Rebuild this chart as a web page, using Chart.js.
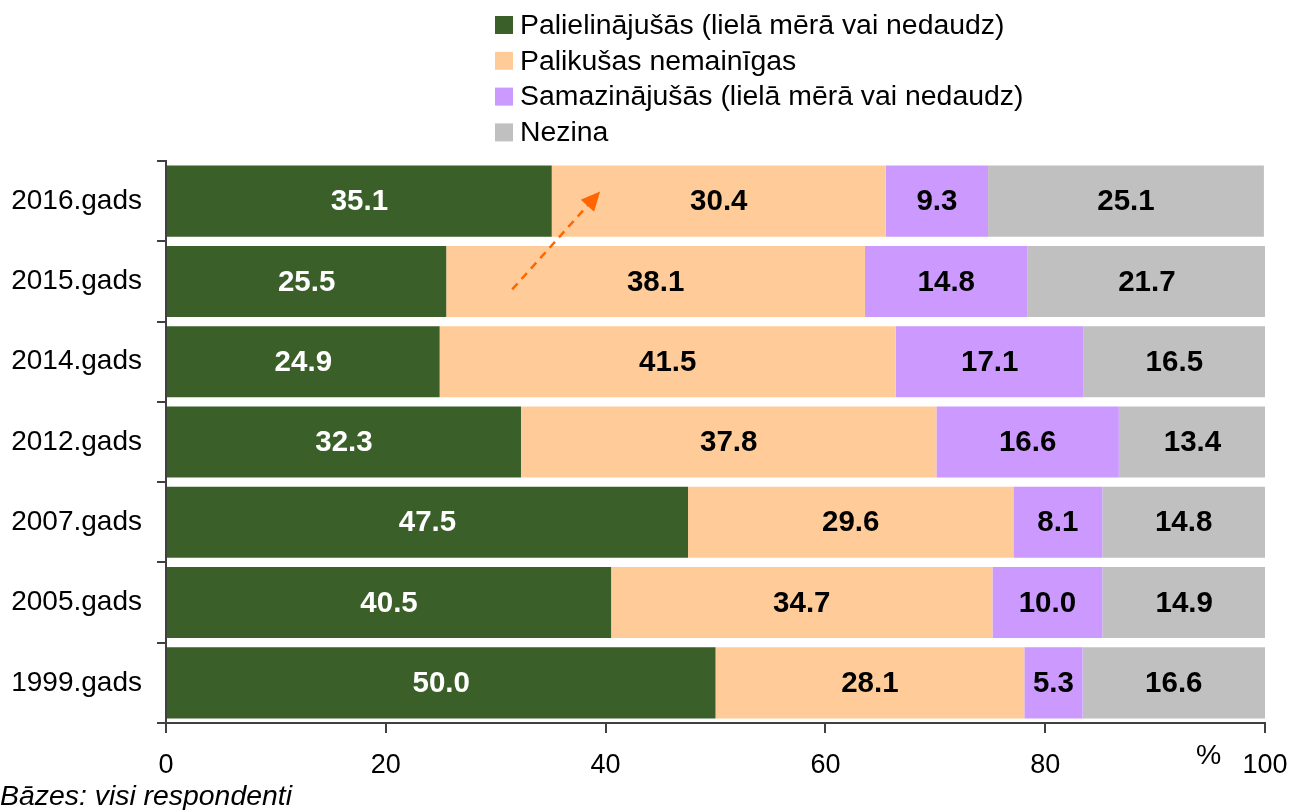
<!DOCTYPE html>
<html>
<head>
<meta charset="utf-8">
<script src="https://cdn.jsdelivr.net/npm/chart.js@4.4.1/dist/chart.umd.min.js"></script>
<style>
html,body{margin:0;padding:0;background:#fff;}
#wrap{position:relative;width:1291px;height:810px;}
</style>
</head>
<body>
<div id="wrap"><canvas id="c" width="1291" height="810"></canvas></div>
<script>
const categories = ['2016.gads','2015.gads','2014.gads','2012.gads','2007.gads','2005.gads','1999.gads'];
const seriesNames = ['Palielinājušās (lielā mērā vai nedaudz)','Palikušas nemainīgas','Samazinājušās (lielā mērā vai nedaudz)','Nezina'];
const increased = [35.1, 25.5, 24.9, 32.3, 47.5, 40.5, 50.0];
const unchanged = [30.4, 38.1, 41.5, 37.8, 29.6, 34.7, 28.1];
const decreased = [9.3, 14.8, 17.1, 16.6, 8.1, 10.0, 5.3];
const dontKnow = [25.1, 21.7, 16.5, 13.4, 14.8, 14.9, 16.6];
const xTicks = [0, 20, 40, 60, 80, 100];
const colors = ['#3A5F28', '#FFCC99', '#CC99FF', '#C0C0C0'];
const labelColors = ['#FFFFFF', '#000000', '#000000', '#000000'];
const unitLabel = '%';
const footnote = 'Bāzes: visi respondenti';
// arrow annotation in data units: [x value, category index]
const arrowFrom = [31.5, 1.1];
const arrowTo = [39.5, -0.12];

const FONT = "'Liberation Sans', Arial, sans-serif";
const AXIS = '#404040';

const seriesData = [increased, unchanged, decreased, dontKnow];
const datasets = seriesData.map((d, i) => ({
  label: seriesNames[i],
  data: d,
  backgroundColor: colors[i],
  borderWidth: 0,
  categoryPercentage: 1.0,
  barPercentage: 0.885
}));

const extras = {
  id: 'extras',
  afterDatasetsDraw(chart) {
    const ctx = chart.ctx;
    ctx.save();
    ctx.font = 'bold 29.5px ' + FONT;
    ctx.textAlign = 'center';
    ctx.textBaseline = 'middle';
    chart.data.datasets.forEach((ds, di) => {
      const meta = chart.getDatasetMeta(di);
      meta.data.forEach((bar, i) => {
        const p = bar.getProps(['x', 'base', 'y'], true);
        ctx.fillStyle = labelColors[di];
        ctx.fillText(ds.data[i].toFixed(1), (p.x + p.base) / 2, p.y + 1);
      });
    });
    ctx.restore();
    // arrow
    const xs = chart.scales.x, ys = chart.scales.y;
    const x1 = xs.getPixelForValue(arrowFrom[0]), y1 = ys.getPixelForValue(arrowFrom[1]);
    const x2 = xs.getPixelForValue(arrowTo[0]), y2 = ys.getPixelForValue(arrowTo[1]);
    const ang = Math.atan2(y2 - y1, x2 - x1);
    const hl = 19, hw = 9;
    const bx = x2 - hl * Math.cos(ang), by = y2 - hl * Math.sin(ang);
    ctx.save();
    ctx.strokeStyle = '#FF6600';
    ctx.fillStyle = '#FF6600';
    ctx.lineWidth = 2.5;
    ctx.setLineDash([8, 6]);
    ctx.beginPath();
    ctx.moveTo(x1, y1);
    ctx.lineTo(bx, by);
    ctx.stroke();
    ctx.setLineDash([]);
    ctx.beginPath();
    ctx.moveTo(x2, y2);
    ctx.lineTo(bx + hw * Math.sin(ang), by - hw * Math.cos(ang));
    ctx.lineTo(bx - hw * Math.sin(ang), by + hw * Math.cos(ang));
    ctx.closePath();
    ctx.fill();
    ctx.restore();
  },
  afterDraw(chart) {
    const ctx = chart.ctx;
    ctx.save();
    ctx.font = '28.4px ' + FONT;
    ctx.textBaseline = 'middle';
    ctx.textAlign = 'left';
    seriesNames.forEach((n, i) => {
      const cy = 25 + i * 35.8;
      ctx.fillStyle = colors[i];
      ctx.fillRect(495, cy - 9, 18, 18);
      ctx.fillStyle = '#000';
      ctx.fillText(n, 520, cy + 1);
    });
    ctx.fillText(unitLabel, 1196, 756);
    ctx.font = 'italic 28.4px ' + FONT;
    ctx.fillText(footnote, 0, 797);
    ctx.restore();
  }
};

new Chart(document.getElementById('c'), {
  type: 'bar',
  data: { labels: categories, datasets },
  options: {
    indexAxis: 'y',
    responsive: false,
    animation: false,
    layout: { padding: { top: 161, right: 26, left: 0, bottom: 0 } },
    plugins: { legend: { display: false }, tooltip: { enabled: false } },
    scales: {
      x: {
        stacked: true,
        min: 0, max: 100,
        afterBuildTicks(s) { s.ticks = xTicks.map(v => ({ value: v })); },
        afterFit(s) { s.height = 87; s.paddingLeft = 0; s.paddingRight = 0; },
        grid: { drawOnChartArea: false, drawTicks: true, tickLength: 10, color: AXIS, lineWidth: 2 },
        border: { display: true, color: AXIS, width: 2 },
        ticks: { color: '#000', font: { family: FONT, size: 27 }, padding: 16, maxRotation: 0 }
      },
      y: {
        stacked: true,
        afterFit(s) { s.width = 166; s.paddingTop = 0; s.paddingBottom = 0; },
        grid: { drawOnChartArea: false, drawTicks: true, tickLength: 9, color: AXIS, lineWidth: 2, offset: true },
        border: { display: true, color: AXIS, width: 2 },
        ticks: { color: '#000', font: { family: FONT, size: 28 }, padding: 15 }
      }
    }
  },
  plugins: [extras]
});
</script>
</body>
</html>
